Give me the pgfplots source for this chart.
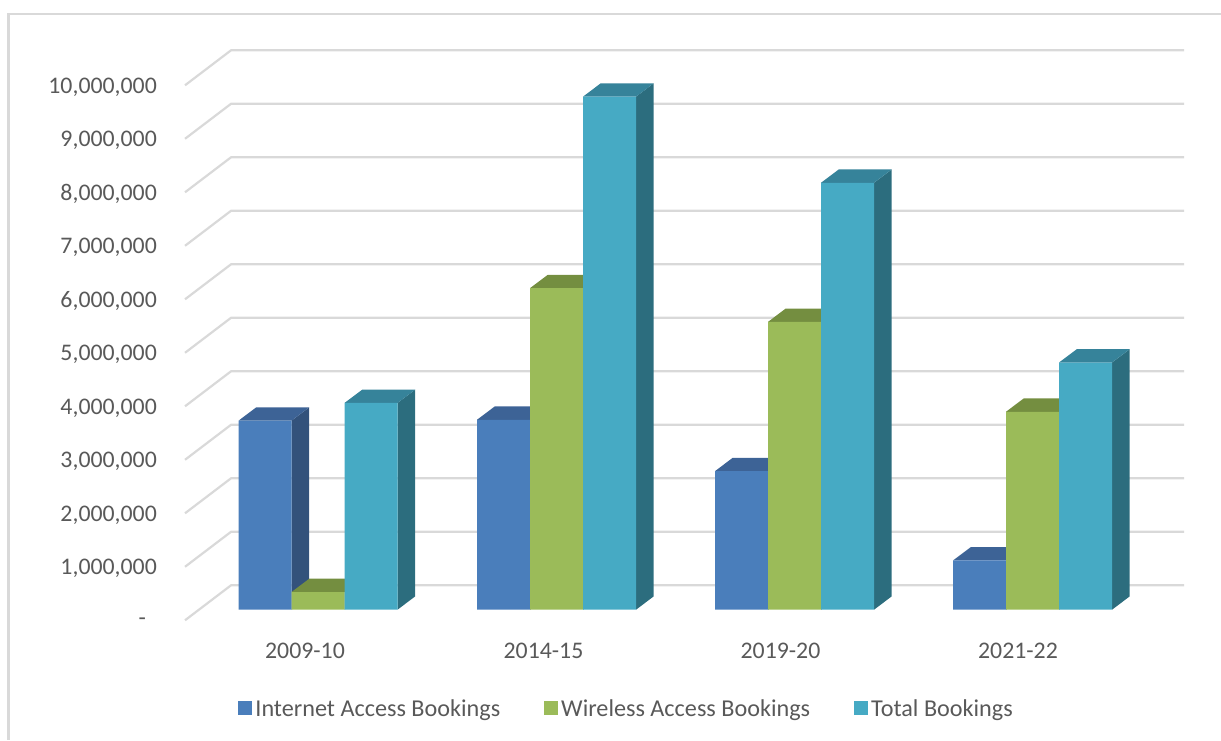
\documentclass[border=0pt]{standalone}
\usepackage{fontspec}
\setmainfont{Carlito}
\usepackage{pgfplots}
\usepackage{pgfplotstable}
\pgfplotsset{compat=1.18}
\definecolor{gridc}{HTML}{D9D9D9}
\definecolor{textc}{HTML}{595959}
\definecolor{bluef}{HTML}{4A7EBB}
\definecolor{blues}{HTML}{33527B}
\definecolor{bluet}{HTML}{3D6396}
\definecolor{greenf}{HTML}{9BBB59}
\definecolor{greens}{HTML}{658040}
\definecolor{greent}{HTML}{748E40}
\definecolor{tealf}{HTML}{46AAC4}
\definecolor{teals}{HTML}{2C6D7E}
\definecolor{tealt}{HTML}{36839A}
\pgfplotstableread{
x v
265 3533000
503.5 3550000
741.5 2590000
979.5 920000
}\internet
\pgfplotstableread{
x v
318 330000
556.5 6010000
794.5 5380000
1032.5 3700000
}\wireless
\pgfplotstableread{
x v
371 3864000
609.5 9590000
847.5 7980000
1085.5 4620000
}\total
% side and top faces of a 3-D bar: left edge, value, value + depth
\newcommand\faces[5]{%
  \pgfmathsetmacro\xa{#1+53}%
  \pgfmathsetmacro\xb{#1+70.7}%
  \pgfmathsetmacro\xc{#1+17.7}%
  \addplot[fill=#4,draw=none,forget plot] coordinates {(\xa,0) (\xb,249000) (\xb,#3) (\xa,#2)} -- cycle;
  \addplot[fill=#5,draw=none,forget plot] coordinates {(#1,#2) (\xa,#2) (\xb,#3) (\xc,#3)} -- cycle;
}
\newcommand\gridl[2]{\addplot[gridc,line width=2.2pt,forget plot] coordinates {(185,#1) (231,#2) (1184,#2)};}
\begin{document}
\begin{tikzpicture}[x=1pt,y=1pt]
\useasboundingbox (0,0) rectangle (1221,740);
\begin{axis}[
  at={(165pt,119.7pt)},anchor=south west,
  scale only axis,width=1019pt,height=570.3pt,
  xmin=165,xmax=1184,ymin=0,ymax=10660000,
  clip=false,
  axis line style={draw=none},
  major tick length=0pt,
  scaled y ticks=false,
  ytick={0,1000000,2000000,3000000,4000000,5000000,6000000,7000000,8000000,9000000,10000000},
  yticklabels={{\raisebox{-2pt}{-}\rule{11pt}{0pt}},{1,000,000},{2,000,000},{3,000,000},{4,000,000},{5,000,000},{6,000,000},{7,000,000},{8,000,000},{9,000,000},{10,000,000}},
  xtick={305,543.5,780.5,1018},
  xticklabels={2009-10,2014-15,2019-20,2021-22},
  tick label style={font=\fontsize{23.8}{28}\selectfont,text=textc},
  yticklabel style={anchor=east,inner sep=0pt,xshift=-8pt,yshift=-1.5pt},
  xticklabel style={anchor=center,inner sep=0pt,yshift=-31pt},
]
\addplot[gridc,line width=2.2pt,forget plot] coordinates {(8.5,-2237000) (8.5,11333000) (1221,11333000)};
\gridl{0}{654000}
\gridl{1000000}{1654000}
\gridl{2000000}{2654000}
\gridl{3000000}{3654000}
\gridl{4000000}{4654000}
\gridl{5000000}{5654000}
\gridl{6000000}{6654000}
\gridl{7000000}{7654000}
\gridl{8000000}{8654000}
\gridl{9000000}{9654000}
\gridl{10000000}{10654000}
\end{axis}
\begin{axis}[
  at={(165pt,130.3pt)},anchor=south west,
  scale only axis,width=1019pt,height=559.7pt,
  xmin=165,xmax=1184,ymin=0,ymax=10462000,
  clip=false,
  hide x axis,
  axis y line=none,
  legend style={at={(0.4535,-0.177)},anchor=center,draw=none,fill=none,
    font=\fontsize{24.2}{28}\selectfont,text=textc,inner sep=0pt,
    legend columns=3,
    /tikz/every even column/.append style={column sep=40pt},
    nodes={inner xsep=3.5pt,inner ysep=1pt}},
  legend cell align=left,
  legend image code/.code={\path[#1] (0pt,-6pt) rectangle (14pt,8pt);},
]
\faces{238.5}{3533000}{3782000}{blues}{bluet}
\faces{477}{3550000}{3799000}{blues}{bluet}
\faces{715}{2590000}{2839000}{blues}{bluet}
\faces{953}{920000}{1169000}{blues}{bluet}
\addplot[ybar,bar width=53,bar shift=0pt,fill=bluef,draw=none] table[x=x,y=v] {\internet};
\addlegendentry{Internet Access Bookings}
\faces{291.5}{330000}{579000}{greens}{greent}
\faces{530}{6010000}{6259000}{greens}{greent}
\faces{768}{5380000}{5629000}{greens}{greent}
\faces{1006}{3700000}{3949000}{greens}{greent}
\addplot[ybar,bar width=53,bar shift=0pt,fill=greenf,draw=none] table[x=x,y=v] {\wireless};
\addlegendentry{Wireless Access Bookings}
\faces{344.5}{3864000}{4113000}{teals}{tealt}
\faces{583}{9590000}{9839000}{teals}{tealt}
\faces{821}{7980000}{8229000}{teals}{tealt}
\faces{1059}{4620000}{4869000}{teals}{tealt}
\addplot[ybar,bar width=53,bar shift=0pt,fill=tealf,draw=none] table[x=x,y=v] {\total};
\addlegendentry{Total Bookings}
\end{axis}
\end{tikzpicture}
\end{document}
